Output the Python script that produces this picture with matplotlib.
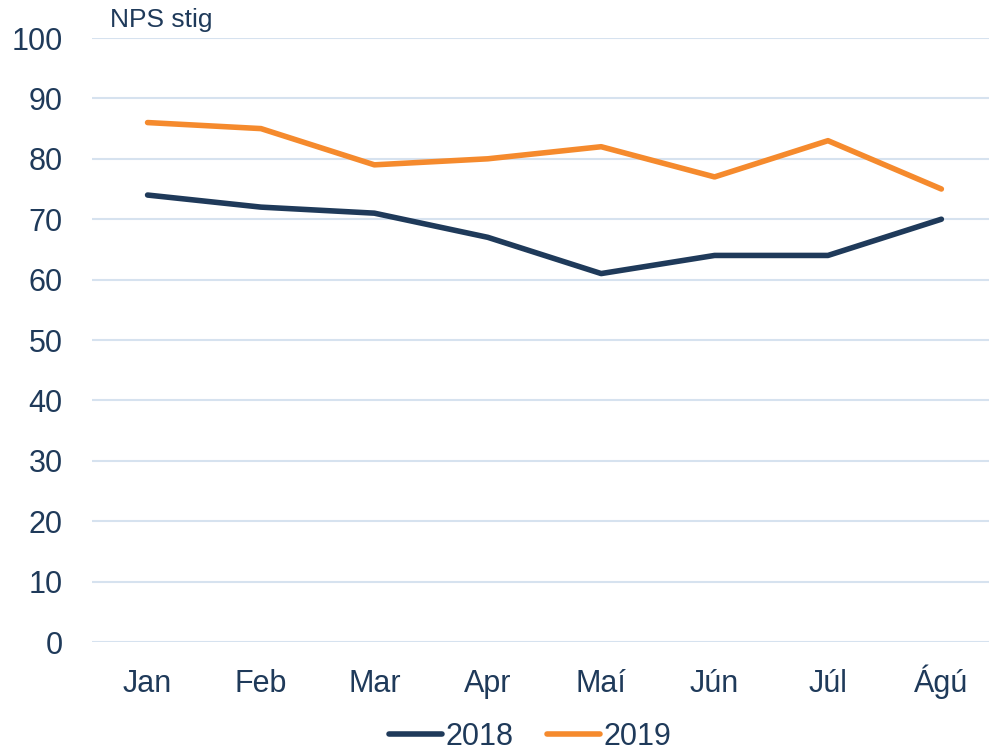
import numpy as np
import matplotlib.pyplot as plt

# ---- Data ----
months = ['Jan', 'Feb', 'Mar', 'Apr', 'Maí', 'Jún', 'Júl', 'Ágú']
nps_2018 = [74, 72, 71, 67, 61, 64, 64, 70]
nps_2019 = [86, 85, 79, 80, 82, 77, 83, 75]

navy = '#1f3a5a'
orange = '#f58a2d'
grid_col = '#d6e2ef'

plt.rcParams['font.family'] = ['Liberation Sans', 'DejaVu Sans']

fig = plt.figure(figsize=(9.89, 7.52), dpi=100)
ax = fig.add_axes([92 / 989, 1 - 642 / 752, 1 - 92 / 989, (642 - 38) / 752])

x = np.arange(len(months))
ax.plot(x, nps_2018, color=navy, lw=4, solid_capstyle='round', solid_joinstyle='round', label='2018')
ax.plot(x, nps_2019, color=orange, lw=4, solid_capstyle='round', solid_joinstyle='round', label='2019')

ax.set_ylim(0, 100)
ax.set_yticks(np.arange(0, 101, 10))
ax.set_xlim(-0.49, 7.42)
ax.set_xticks(x)
ax.set_xticklabels(months)
ax.grid(axis='y', color=grid_col, lw=1.5)
ax.set_axisbelow(True)
for s in ax.spines.values():
    s.set_visible(False)
ax.tick_params(axis='both', length=0, labelsize=22, colors=navy)
ax.tick_params(axis='y', pad=21)
ax.tick_params(axis='x', pad=36)
for lbl in ax.get_xticklabels():
    lbl.set_va('baseline')

fig.text(110 / 989, 1 - 20 / 752, 'NPS stig', fontsize=19, color=navy, va='center', ha='left')

leg = fig.legend(loc='center', bbox_to_anchor=(530 / 989, 1 - 737 / 752), ncol=2, frameon=False,
                 fontsize=22, handlelength=1.75, handletextpad=0.1, columnspacing=1.1)
for t in leg.get_texts():
    t.set_color(navy)

fig.savefig('out.png', dpi=100)
